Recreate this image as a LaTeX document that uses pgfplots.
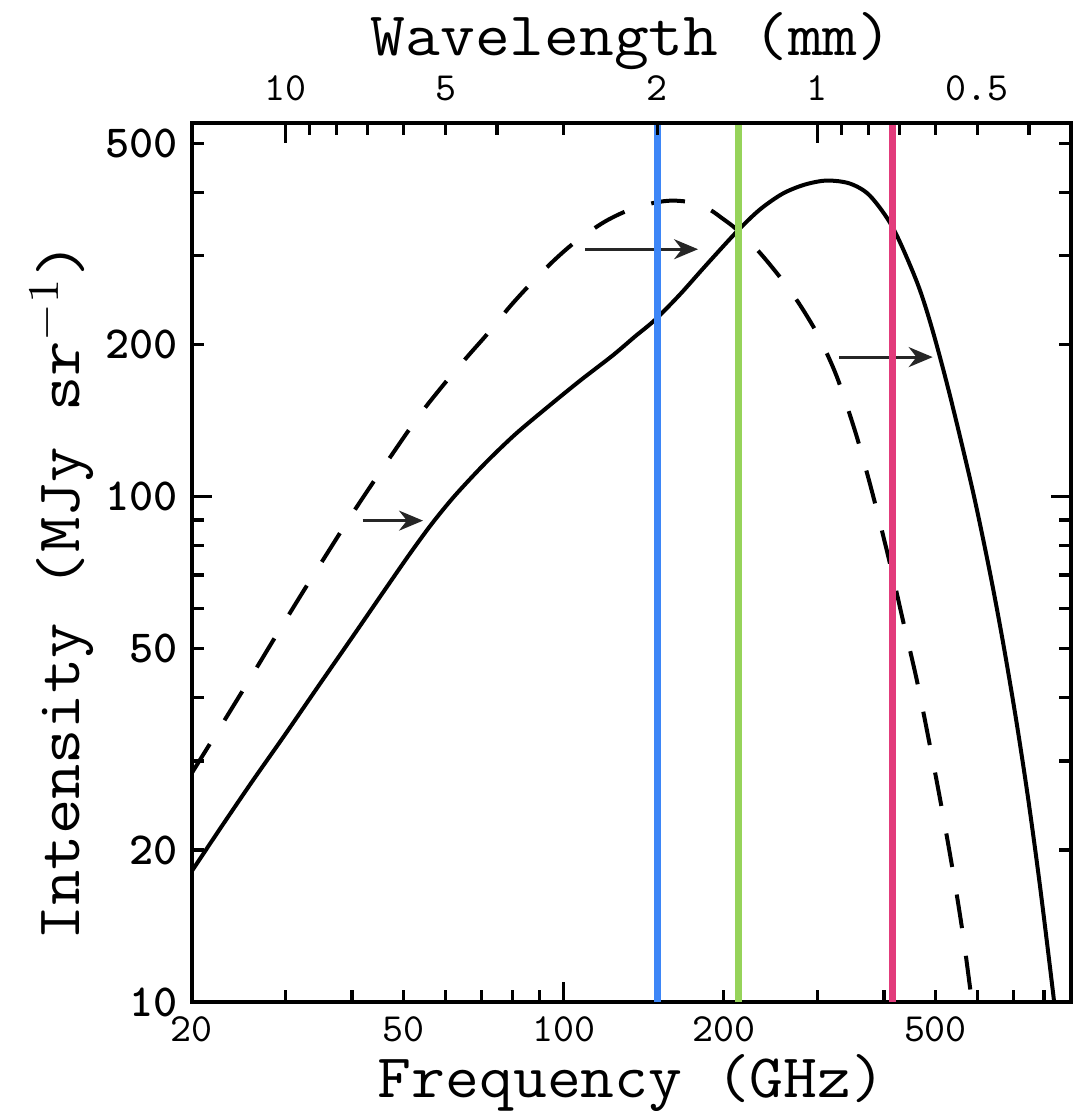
\documentclass[border=0pt]{standalone}
\usepackage{fontspec}
\usepackage{graphicx}
\usepackage{pgfplots}
\usepackage{pgfplotstable}
\pgfplotsset{compat=1.18}
\usetikzlibrary{arrows.meta}

\definecolor{lineblue}{HTML}{3D86F7}
\definecolor{linegreen}{HTML}{96D35A}
\definecolor{linepink}{HTML}{E23B7B}

% frequency (GHz)  intensity (MJy/sr)
\pgfplotstableread{
f      I
20     18.17
22.58  22.01
25.93  27.27
29.91  33.79
34.50  42.05
39.97  52.57
46.11  65.45
51.38  77.13
56.52  88.45
62.43  100.5
71.07  116.3
80.94  132.7
92.98  150.1
107.3  169.7
123.7  190.5
136.1  207.5
148.4  223.8
165.3  251.2
184.2  285.4
211.6  334.8
233.7  370.1
258.1  398.1
284.0  414.8
312.3  422.5
345.1  416.8
376.3  394.5
415.7  341.0
461.1  266.6
492.1  216.1
531.9  159.2
587.7  102.7
632.5  71.1
669.0  51.9
707.8  36.6
745.5  25.6
785.2  17.15
830.7  10.56
856.3  7.97
}\solidcurve

\pgfplotstableread{
f      I
20     28.41
22.87  35.68
25.71  43.61
28.40  51.86
31.92  63.39
35.11  74.37
40.50  94.25
47.12  119.5
53.65  145.4
60.30  169.7
66.63  191.9
71.69  209.4
79.21  237.8
86.38  262.9
96.24  294.7
105.9  321.4
119.5  350.4
133.2  370.1
148.4  382.1
160.4  385.6
174.9  382.1
188.2  370.1
199.1  355.2
211.6  337.9
233.7  304.2
258.1  267.8
277.9  240.0
299.1  211.2
316.4  186.7
330.4  166.7
355.7  131.5
381.3  100.9
410.3  74.03
434.1  57.07
461.1  43.42
487.8  32.29
513.7  24.22
538.7  18.25
562.6  13.70
584.9  10.09
600.3  8.22
}\dashedcurve

\begin{document}
\begin{tikzpicture}
\begin{axis}[
  name=main,
  scale only axis, width=220pt, height=220pt,
  xmode=log, ymode=log,
  xmin=20, xmax=900, ymin=10, ymax=550,
  axis line style={line width=1pt},
  tick align=inside,
  tick style={line width=0.8pt, black},
  major tick length=5pt, minor tick length=3pt,
  xtick pos=left, ytick pos=both, yticklabel pos=left,
  xtick={100}, xticklabels={100},
  extra x ticks={20,50,200,500}, extra x tick labels={20,50,200,500},
  extra x tick style={major tick length=3pt},
  minor xtick={30,40,60,70,80,90,300,400,600,700,800},
  ytick={100}, yticklabels={100},
  extra y ticks={10,20,50,200,500}, extra y tick labels={10,20,50,200,500},
  extra y tick style={major tick length=3pt},
  minor ytick={30,40,60,70,80,90,300,400},
  xticklabel style={font=\ttfamily\fontsize{10}{12}\selectfont},
  yticklabel style={font=\ttfamily\bfseries\fontsize{11.5}{13}\selectfont},
  xlabel={\scalebox{1.06}[1]{Frequency (GHz)}},
  ylabel={\scalebox{1.105}[1]{Intensity (MJy sr$^{-1}$)}},
  label style={font=\ttfamily\fontsize{15.5}{18}\selectfont},
  xlabel shift=-3.5pt,
  ylabel shift=-4pt,
  ylabel style={at={(ticklabel cs:0.467)}},
]
\addplot[black, line width=1pt, smooth] table[x=f, y=I] {\solidcurve};
\addplot[black, line width=1pt, smooth, dash pattern=on 8.5pt off 7pt] table[x=f, y=I] {\dashedcurve};

\addplot[black!85, line width=0.7pt, -{Stealth[length=6pt, width=5pt]}] coordinates {(41.9,89.7) (54.4,89.7)};
\addplot[black!85, line width=0.7pt, -{Stealth[length=6pt, width=5pt]}] coordinates {(109.8,309) (178.9,309)};
\addplot[black!85, line width=0.7pt, -{Stealth[length=6pt, width=5pt]}] coordinates {(330,189) (494,189)};

\addplot[lineblue, line width=1.7pt] coordinates {(150,10) (150,550)};
\addplot[linegreen, line width=1.7pt] coordinates {(213,10) (213,550)};
\addplot[linepink, line width=1.7pt] coordinates {(415,10) (415,550)};
\end{axis}

\begin{axis}[
  scale only axis, width=220pt, height=220pt,
  xmode=log, xmin=20, xmax=900, ymin=0, ymax=1,
  axis x line*=top, axis y line=none,
  axis line style={line width=1pt},
  tick align=inside,
  tick style={line width=0.8pt, black},
  major tick length=5pt, minor tick length=3pt,
  xtick={29.979,299.79}, xticklabels={10,1},
  extra x ticks={59.958,149.9,599.58}, extra x tick labels={5,2,0.5},
  extra x tick style={major tick length=3pt},
  minor xtick={33.31,37.47,42.83,49.97,74.95,99.93,333.1,374.7,428.3,499.7,749.5},
  xticklabel style={font=\ttfamily\fontsize{10}{12}\selectfont, yshift=2pt},
  xlabel={\scalebox{1.09}[1]{Wavelength (mm)}},
  label style={font=\ttfamily\fontsize{15.5}{18}\selectfont},
  xlabel shift=-5.5pt,
]
\end{axis}

\pgfresetboundingbox
\useasboundingbox ([xshift=-48pt,yshift=-27.25pt]main.south west) rectangle ([xshift=3.25pt,yshift=30.7pt]main.north east);
\end{tikzpicture}
\end{document}
